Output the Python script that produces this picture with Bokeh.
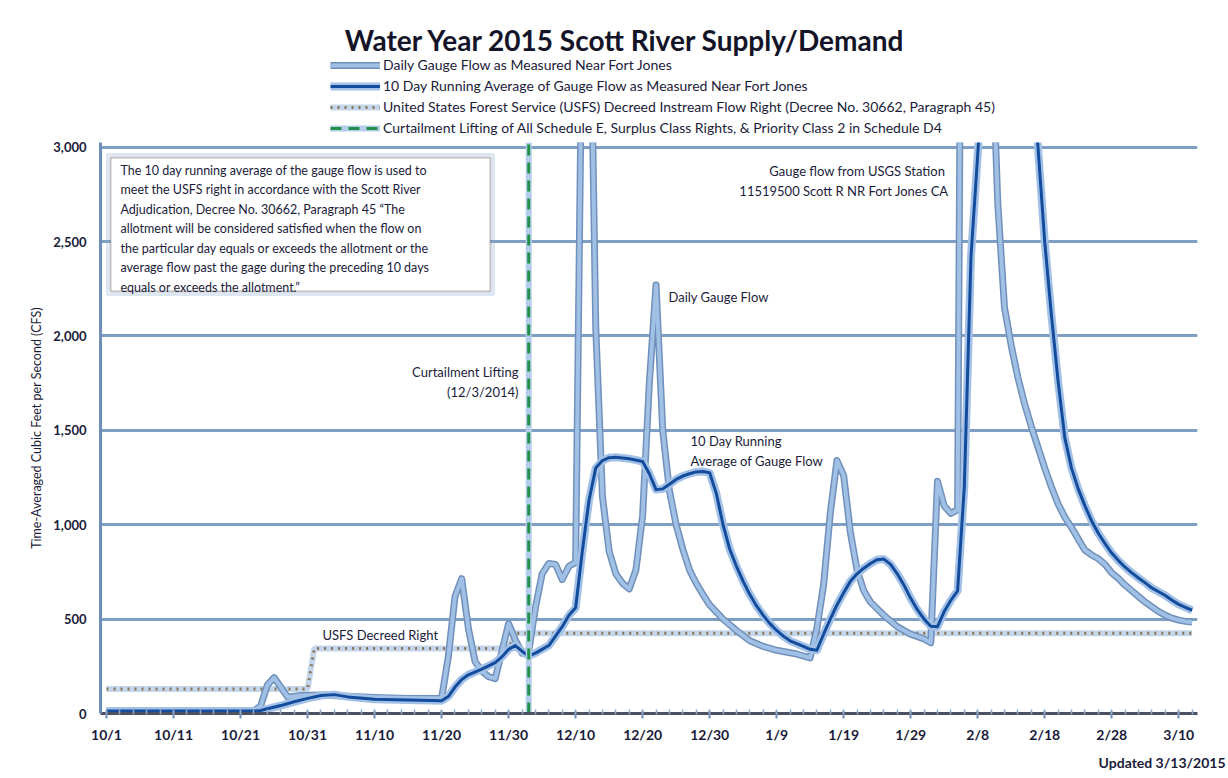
import pandas as pd
from bokeh.plotting import figure
from bokeh.layouts import column
from bokeh.models import (Range1d, FixedTicker, NumeralTickFormatter, Label,
                          BoxAnnotation, Legend, LegendItem, Title)
from bokeh.embed import file_html
from bokeh.resources import INLINE

# ---------------- data ----------------
season_start = "2014-10-01"

tick_dates = ["2014-10-01", "2014-10-11", "2014-10-21", "2014-10-31", "2014-11-10",
              "2014-11-20", "2014-11-30", "2014-12-10", "2014-12-20", "2014-12-30",
              "2015-01-09", "2015-01-19", "2015-01-29", "2015-02-08", "2015-02-18",
              "2015-02-28", "2015-03-10"]
tick_labels = ["10/1", "10/11", "10/21", "10/31", "11/10", "11/20", "11/30", "12/10",
               "12/20", "12/30", "1/9", "1/19", "1/29", "2/8", "2/18", "2/28", "3/10"]
y_ticks = [0, 500, 1000, 1500, 2000, 2500, 3000]

daily_dates = ["2014-10-01", "2014-10-11", "2014-10-21", "2014-10-23", "2014-10-24",
               "2014-10-25", "2014-10-26", "2014-10-27", "2014-10-28", "2014-10-30",
               "2014-11-02", "2014-11-06", "2014-11-10", "2014-11-15", "2014-11-20",
               "2014-11-21", "2014-11-22", "2014-11-23", "2014-11-24", "2014-11-25",
               "2014-11-26", "2014-11-27", "2014-11-28", "2014-11-29", "2014-11-30",
               "2014-12-01", "2014-12-02", "2014-12-03", "2014-12-04", "2014-12-05",
               "2014-12-06", "2014-12-07", "2014-12-08", "2014-12-09", "2014-12-10",
               "2014-12-11", "2014-12-12", "2014-12-13", "2014-12-14", "2014-12-15",
               "2014-12-16", "2014-12-17", "2014-12-18", "2014-12-19", "2014-12-20",
               "2014-12-21", "2014-12-22", "2014-12-23", "2014-12-24", "2014-12-25",
               "2014-12-26", "2014-12-27", "2014-12-28", "2014-12-29", "2014-12-30",
               "2015-01-01", "2015-01-03", "2015-01-05", "2015-01-07", "2015-01-09",
               "2015-01-12", "2015-01-14", "2015-01-15", "2015-01-16", "2015-01-17",
               "2015-01-18", "2015-01-19", "2015-01-20", "2015-01-21", "2015-01-22",
               "2015-01-23", "2015-01-25", "2015-01-27", "2015-01-29", "2015-01-31",
               "2015-02-01", "2015-02-02", "2015-02-03", "2015-02-04", "2015-02-05",
               "2015-02-06", "2015-02-07", "2015-02-08", "2015-02-09", "2015-02-10",
               "2015-02-11", "2015-02-12", "2015-02-13", "2015-02-14", "2015-02-15",
               "2015-02-16", "2015-02-17", "2015-02-18", "2015-02-19", "2015-02-20",
               "2015-02-21", "2015-02-22", "2015-02-23", "2015-02-24", "2015-02-25",
               "2015-02-26", "2015-02-27", "2015-02-28", "2015-03-01", "2015-03-02",
               "2015-03-03", "2015-03-04", "2015-03-05", "2015-03-06", "2015-03-07",
               "2015-03-08", "2015-03-09", "2015-03-10", "2015-03-11", "2015-03-12"]
daily_cfs = [15, 14, 13, 14, 40,
             150, 190, 140, 88, 95,
             98, 92, 85, 80, 80,
             300, 620, 714, 450, 275,
             225, 195, 185, 330, 476,
             390, 320, 330, 560, 740,
             795, 790, 710, 780, 800,
             3800, 4300, 2050, 1150, 860,
             740, 690, 660, 760, 1050,
             1750, 2270, 1500, 1180, 1000,
             870, 760, 690, 630, 575,
             500, 440, 385, 355, 335,
             315, 295, 450, 680, 1060,
             1340, 1260, 960, 760, 650,
             590, 520, 460, 420, 395,
             375, 1230, 1100, 1060, 1080,
             7000, 9000, 7500, 5500, 3700,
             2700, 2150, 1950, 1780, 1640,
             1520, 1410, 1300, 1200, 1110,
             1040, 985, 925, 865, 840,
             820, 790, 745, 715, 680,
             650, 620, 590, 565, 540,
             520, 505, 495, 488, 485]

avg_dates = ["2014-10-01", "2014-10-23", "2014-10-24", "2014-10-25", "2014-10-27",
             "2014-10-29", "2014-10-31", "2014-11-02", "2014-11-04", "2014-11-06",
             "2014-11-10", "2014-11-15", "2014-11-20", "2014-11-21", "2014-11-22",
             "2014-11-23", "2014-11-24", "2014-11-26", "2014-11-28", "2014-11-29",
             "2014-11-30", "2014-12-01", "2014-12-02", "2014-12-03", "2014-12-04",
             "2014-12-05", "2014-12-06", "2014-12-07", "2014-12-08", "2014-12-09",
             "2014-12-10", "2014-12-11", "2014-12-12", "2014-12-13", "2014-12-14",
             "2014-12-15", "2014-12-16", "2014-12-18", "2014-12-20", "2014-12-21",
             "2014-12-22", "2014-12-23", "2014-12-24", "2014-12-25", "2014-12-26",
             "2014-12-27", "2014-12-28", "2014-12-29", "2014-12-30", "2014-12-31",
             "2015-01-01", "2015-01-02", "2015-01-03", "2015-01-04", "2015-01-05",
             "2015-01-06", "2015-01-07", "2015-01-08", "2015-01-09", "2015-01-10",
             "2015-01-11", "2015-01-12", "2015-01-13", "2015-01-14", "2015-01-15",
             "2015-01-16", "2015-01-17", "2015-01-18", "2015-01-19", "2015-01-20",
             "2015-01-21", "2015-01-22", "2015-01-23", "2015-01-24", "2015-01-25",
             "2015-01-26", "2015-01-27", "2015-01-28", "2015-01-29", "2015-01-30",
             "2015-01-31", "2015-02-01", "2015-02-02", "2015-02-03", "2015-02-04",
             "2015-02-05", "2015-02-06", "2015-02-07", "2015-02-08", "2015-02-09",
             "2015-02-12", "2015-02-16", "2015-02-17", "2015-02-18", "2015-02-19",
             "2015-02-20", "2015-02-21", "2015-02-22", "2015-02-23", "2015-02-24",
             "2015-02-25", "2015-02-26", "2015-02-27", "2015-02-28", "2015-03-01",
             "2015-03-02", "2015-03-03", "2015-03-04", "2015-03-05", "2015-03-06",
             "2015-03-07", "2015-03-08", "2015-03-09", "2015-03-10", "2015-03-11",
             "2015-03-12"]
avg_cfs = [13, 13, 16, 25, 42,
           62, 80, 95, 100, 88,
           76, 72, 68, 90, 140,
           180, 205, 235, 270, 300,
           340, 360, 330, 305, 320,
           340, 360, 410, 460, 520,
           560, 860, 1130, 1300, 1340,
           1355, 1358, 1350, 1335, 1270,
           1186, 1190, 1215, 1240, 1258,
           1270, 1280, 1282, 1275, 1165,
           1000, 870, 780, 700, 630,
           570, 520, 476, 440, 410,
           385, 370, 355, 340, 335,
           420, 500, 575, 640, 700,
           740, 770, 795, 815, 818,
           790, 740, 680, 610, 550,
           500, 462, 460, 540, 600,
           650, 1200, 2420, 2960, 3500,
           4500, 3500, 3000, 2500, 2110,
           1760, 1460, 1300, 1190, 1100,
           1020, 955, 900, 850, 810,
           775, 745, 718, 692, 665,
           645, 625, 600, 578, 562,
           547]

usfs_dates = ["2014-10-01", "2014-10-31", "2014-11-01", "2014-11-30", "2014-12-01", "2015-03-12"]
usfs_cfs = [130, 130, 345, 345, 425, 425]

curtailment_date = "2014-12-03"
curtail_span = [0, 3025]

legend_labels = [
    "Daily Gauge Flow as Measured Near Fort Jones",
    "10 Day Running Average of Gauge Flow as Measured Near Fort Jones",
    "United States Forest Service (USFS) Decreed Instream Flow Right (Decree No. 30662, Paragraph 45)",
    "Curtailment Lifting of All Schedule E, Surplus Class Rights, & Priority Class 2 in Schedule D4",
]


def to_day(dates):
    t0 = pd.Timestamp(season_start)
    return [(pd.Timestamp(d) - t0).days for d in dates]


# ---------------- style ----------------
FONT = "Lato"
TXT = "#1b1b3a"
GRID = "#7e9ec4"
W = 1228
HEAD_H = 136
MAIN_H = 642
BL, BR = 100, 31          # left / right borders shared by both figures
FRAME_W = W - BL - BR

STY = {
    "daily_h": dict(line_color="#7090ba", line_width=7, line_join="round"),
    "daily": dict(line_color="#a0c0e6", line_width=4, line_join="round"),
    "avg_h": dict(line_color="#a3c1e6", line_width=8, line_join="round"),
    "avg": dict(line_color="#134c9c", line_width=3, line_join="round"),
    "usfs_h": dict(line_color="#c3d6ec", line_width=6),
    "usfs": dict(line_color="#8a7654", line_width=3, line_dash="2 5"),
    "cur_h": dict(line_color="#b3cdea", line_width=6),
    "cur": dict(line_color="#23904a", line_width=3, line_dash="11 7"),
}

# ---------------- header (title + legend) ----------------
head = figure(width=W, height=HEAD_H, output_backend="svg", toolbar_location=None,
              x_range=Range1d(0, FRAME_W), y_range=Range1d(0, HEAD_H),
              x_axis_location=None, y_axis_location=None,
              min_border_left=BL, min_border_right=BR, min_border_top=0,
              min_border_bottom=0)
head.outline_line_color = None
head.xgrid.visible = False
head.ygrid.visible = False
head.add_layout(Label(x=525, y=97, text="Water Year 2015 Scott River Supply/Demand",
                      text_font=FONT, text_font_size="28px", text_font_style="bold",
                      text_color="#141428", text_align="center", text_baseline="middle"))
# off-screen samples so the legend can draw each line style
hr = {k: head.line([-60, -50], [-60, -60], **v) for k, v in STY.items()}
legend = Legend(items=[
    LegendItem(label=legend_labels[0], renderers=[hr["daily_h"], hr["daily"]]),
    LegendItem(label=legend_labels[1], renderers=[hr["avg_h"], hr["avg"]]),
    LegendItem(label=legend_labels[2], renderers=[hr["usfs_h"], hr["usfs"]]),
    LegendItem(label=legend_labels[3], renderers=[hr["cur_h"], hr["cur"]]),
], location=(230, 0), orientation="vertical", glyph_width=50, glyph_height=16,
    label_height=16, spacing=4, padding=0, margin=0, label_standoff=3,
    label_text_font=FONT, label_text_font_size="14px", label_text_color=TXT,
    background_fill_alpha=0, border_line_color=None)
head.add_layout(legend)

# ---------------- main chart ----------------
p = figure(width=W, height=MAIN_H, output_backend="svg", toolbar_location=None,
           x_range=Range1d(-0.9, 162.8), y_range=Range1d(0, 3025),
           min_border_left=BL, min_border_right=BR, min_border_top=6,
           min_border_bottom=65)
p.outline_line_color = None
p.background_fill_color = "white"
p.border_fill_color = "white"

p.xgrid.grid_line_color = None
p.ygrid.ticker = FixedTicker(ticks=y_ticks[1:])
p.ygrid.grid_line_color = GRID
p.ygrid.grid_line_width = 3

tick_days = to_day(tick_dates)
p.xaxis.ticker = FixedTicker(ticks=tick_days, minor_ticks=list(range(0, 163, 2)))
p.xaxis.major_label_overrides = {d: lab for d, lab in zip(tick_days, tick_labels)}
p.xaxis.axis_line_color = "#4d5060"
p.xaxis.axis_line_width = 3
p.xaxis.major_tick_line_color = "#6f8db5"
p.xaxis.major_tick_line_width = 2
p.xaxis.major_tick_out = 5
p.xaxis.major_tick_in = 3
p.xaxis.minor_tick_line_color = "#8fa9c8"
p.xaxis.minor_tick_line_width = 1.5
p.xaxis.minor_tick_in = 4
p.xaxis.minor_tick_out = 1
p.xaxis.major_label_standoff = 7
p.xaxis.major_label_text_font = FONT
p.xaxis.major_label_text_font_size = "14px"
p.xaxis.major_label_text_font_style = "bold"
p.xaxis.major_label_text_color = TXT

p.yaxis.ticker = FixedTicker(ticks=y_ticks)
p.yaxis.formatter = NumeralTickFormatter(format="0,0")
p.yaxis.axis_line_color = "#6f8db5"
p.yaxis.axis_line_width = 3
p.yaxis.major_tick_line_color = None
p.yaxis.minor_tick_line_color = None
p.yaxis.major_label_standoff = 8
p.yaxis.major_label_text_font = FONT
p.yaxis.major_label_text_font_size = "13px"
p.yaxis.major_label_text_font_style = "bold"
p.yaxis.major_label_text_color = TXT
p.yaxis.axis_label = "Time-Averaged Cubic Feet per Second (CFS)"
p.yaxis.axis_label_text_font = FONT
p.yaxis.axis_label_text_font_size = "12.5px"
p.yaxis.axis_label_text_font_style = "normal"
p.yaxis.axis_label_text_color = TXT
p.yaxis.axis_label_standoff = 6

ud = to_day(usfs_dates)
p.line(ud, usfs_cfs, **STY["usfs_h"])
p.line(ud, usfs_cfs, **STY["usfs"])
dd = to_day(daily_dates)
p.line(dd, daily_cfs, **STY["daily_h"])
p.line(dd, daily_cfs, **STY["daily"])
ad = to_day(avg_dates)
p.line(ad, avg_cfs, **STY["avg_h"])
p.line(ad, avg_cfs, **STY["avg"])
cd = to_day([curtailment_date]) * 2
p.line(cd, curtail_span, **STY["cur_h"])
p.line(cd, curtail_span, **STY["cur"])

p.add_layout(Title(text="Updated 3/13/2015", align="right", offset=-28, standoff=12,
                   text_font=FONT, text_font_size="14px", text_font_style="bold",
                   text_color=TXT), "below")


def add_label(text, x, y, size, align="left", baseline="middle", style="normal"):
    p.add_layout(Label(x=x, y=y, x_units="screen", y_units="screen", text=text,
                       text_font=FONT, text_font_size=size, text_align=align,
                       text_baseline=baseline, text_font_style=style,
                       text_color=TXT, text_line_height=1.3))


p.add_layout(BoxAnnotation(left=7, right=393, top=559, bottom=419,
                           left_units="screen", right_units="screen",
                           top_units="screen", bottom_units="screen",
                           fill_alpha=0, line_color="#8fb0d6", line_width=3))
p.add_layout(BoxAnnotation(left=10, right=390, top=556, bottom=422,
                           left_units="screen", right_units="screen",
                           top_units="screen", bottom_units="screen",
                           fill_color="white", fill_alpha=1,
                           line_color="#2b2b3a", line_width=2))
add_label("The 10 day running average  of the gauge flow is used to\n"
          "meet the USFS right in accordance with the Scott River\n"
          "Adjudication, Decree No. 30662, Paragraph 45 \u201cThe\n"
          "allotment will be considered satisfied when the flow on\n"
          "the particular day equals or exceeds the allotment or the\n"
          "average flow past the gage during the preceding 10 days\n"
          "equals or exceeds the allotment.\u201d",
          20, 551, "12.5px", baseline="top")
add_label("Gauge flow  from USGS Station\n11519500 Scott R NR Fort Jones CA",
          848, 551, "13px", align="right", baseline="top")
add_label("Daily Gauge Flow", 568, 417, "13px")
add_label("Curtailment Lifting\n(12/3/2014)", 418, 350, "13px", align="right", baseline="top")
add_label("10 Day Running\nAverage of Gauge Flow", 590, 281, "13px", baseline="top")
add_label("USFS Decreed Right", 222, 79, "13px")

layout = column(head, p, spacing=0)
open("out.html", "w").write(file_html(layout, INLINE))
